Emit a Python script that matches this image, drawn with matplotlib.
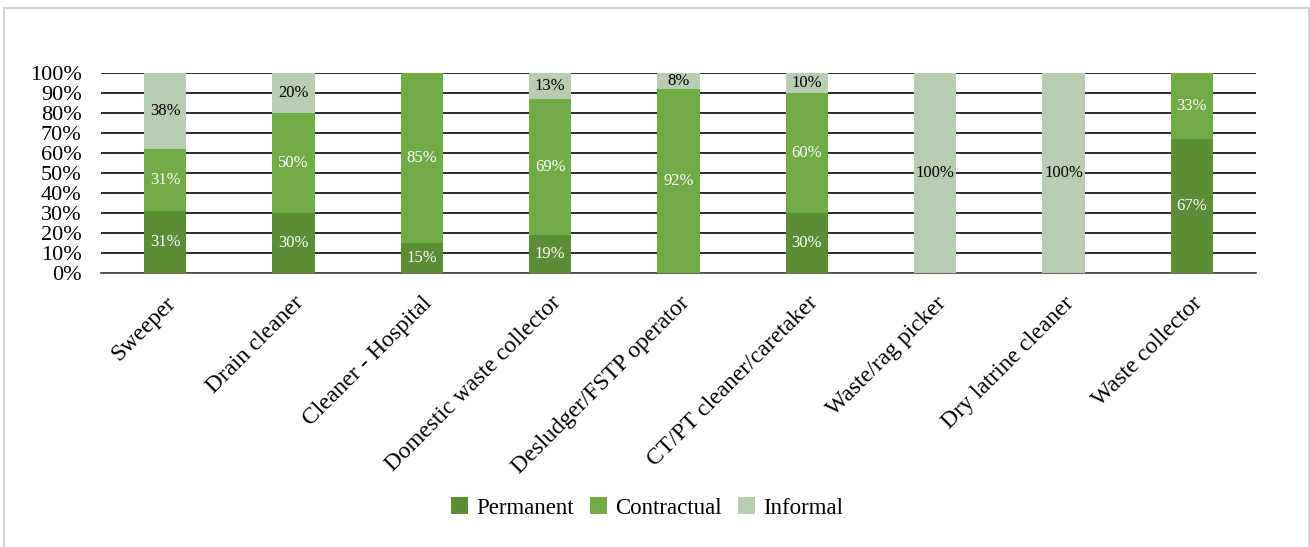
import matplotlib
matplotlib.use("Agg")
import matplotlib.pyplot as plt
import matplotlib.patches as mpatches
import numpy as np

plt.rcParams['font.family'] = ['Liberation Serif', 'DejaVu Serif']

categories = ['Sweeper', 'Drain cleaner', 'Cleaner - Hospital',
              'Domestic waste collector', 'Desludger/FSTP operator',
              'CT/PT cleaner/caretaker', 'Waste/rag picker',
              'Dry latrine cleaner', 'Waste collector']
permanent = [31, 30, 15, 19, 0, 30, 0, 0, 67]
contractual = [31, 50, 85, 69, 92, 60, 0, 0, 33]
informal = [38, 20, 0, 13, 8, 10, 100, 100, 0]

series = [('Permanent', permanent, '#5b8c36', 'white'),
          ('Contractual', contractual, '#70ab46', 'white'),
          ('Informal', informal, '#b8cdb1', 'black')]

fig = plt.figure(figsize=(13.1, 5.47), dpi=100)
ax = fig.add_axes([0.0771, 0.5009, 0.8817, 0.3656])

x = np.arange(len(categories))
totals = np.array(permanent) + np.array(contractual) + np.array(informal)
bottom = np.zeros(len(categories))
for name, vals, color, tcol in series:
    share = np.array(vals) / totals
    ax.bar(x, share, 0.33, bottom=bottom, color=color, label=name, zorder=3)
    for i, v in enumerate(vals):
        if v > 0:
            ax.text(x[i], bottom[i] + share[i] / 2, f'{v}%', ha='center',
                    va='center', fontsize=12, color=tcol, zorder=4)
    bottom += share

ax.set_xlim(-0.5, len(categories) - 0.5)
ax.set_ylim(0, 1)
ax.set_yticks(np.arange(0, 1.01, 0.1))
ax.set_yticklabels([f'{int(round(t * 100))}%' for t in np.arange(0, 1.01, 0.1)],
                   fontsize=16)
ax.yaxis.grid(True, color='#1a1a1a', linewidth=1.3, zorder=0)
ax.set_axisbelow(True)
for s in ['top', 'right', 'left']:
    ax.spines[s].set_visible(False)
ax.spines['bottom'].set_color('#555555')
ax.spines['bottom'].set_linewidth(1.3)
ax.tick_params(axis='y', length=0, pad=14)
ax.tick_params(axis='x', length=0, pad=14)
ax.set_xticks(x)
ax.set_xticklabels(categories, rotation=45, ha='right', rotation_mode='anchor',
                   fontsize=17)

fig.legend(loc='center', bbox_to_anchor=(0.494, 0.071), ncol=3, frameon=False,
           fontsize=16.5, handlelength=0.75, handleheight=0.75, handletextpad=0.35,
           columnspacing=0.7)

fig.patches.append(mpatches.Rectangle((4 / 1310, -0.05), 1305 / 1310, 1.05 - 8 / 547,
                                      transform=fig.transFigure, fill=False,
                                      edgecolor='#d4d4d4', linewidth=1.5))

fig.savefig('out.png', dpi=100)
